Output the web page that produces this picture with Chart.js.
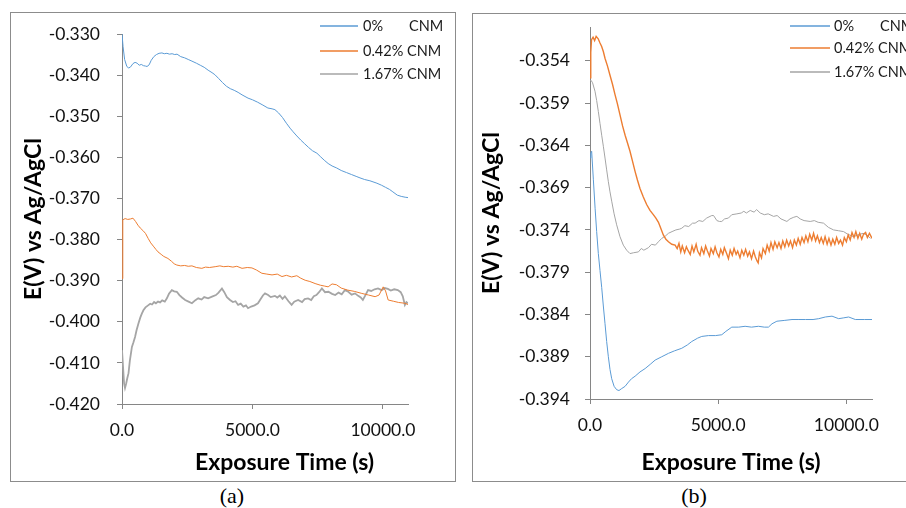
<!DOCTYPE html>
<html>
<head>
<meta charset="utf-8">
<title>Open circuit potential vs exposure time</title>
<script src="https://cdn.jsdelivr.net/npm/chart.js@4.4.1/dist/chart.umd.min.js"></script>
<style>
  html, body { margin: 0; padding: 0; background: #fff; width: 906px; height: 508px; overflow: hidden; }
  .panel { position: absolute; border: 1px solid #8c8c8c; box-sizing: border-box; }
  .panel canvas { position: absolute; left: 0; top: 0; }
  .caption { position: absolute; top: 483px; width: 60px; text-align: center; line-height: 26px;
             font-family: "Liberation Serif", "DejaVu Serif", serif; font-size: 22px; color: #000; }
</style>
</head>
<body>
<div class="panel" id="boxA" style="left:10px; top:12px; width:446px; height:470px;">
  <canvas id="chartA" width="444" height="468"></canvas>
</div>
<div class="panel" id="boxB" style="left:472px; top:13px; width:446px; height:469px;">
  <canvas id="chartB" width="444" height="467"></canvas>
</div>
<div class="caption" style="left:202px;">(a)</div>
<div class="caption" style="left:664px;">(b)</div>

<script>
// series labels (legend text)
const labelsA = ['0%       CNM', '0.42% CNM', '1.67% CNM'];
const labelsB = ['0%       CNM', '0.42% CNM', '1.67% CNM'];

// axis ticks
const xTicks = [0, 5000, 10000];
const yTicksA = [-0.420, -0.410, -0.400, -0.390, -0.380, -0.370, -0.360, -0.350, -0.340, -0.330];
const yTicksB = [-0.394, -0.389, -0.384, -0.379, -0.374, -0.369, -0.364, -0.359, -0.354];

// panel (a): [time (s), E (V)]
const a0 = [
  [0, -0.3300], [40, -0.3330], [100, -0.3362], [180, -0.3378], [250, -0.3383], [330, -0.3380],
  [420, -0.3372], [500, -0.3369], [580, -0.3371], [660, -0.3376], [740, -0.3374], [820, -0.3377],
  [900, -0.3378], [960, -0.3379], [1040, -0.3375], [1120, -0.3364], [1220, -0.3355], [1320, -0.3350],
  [1420, -0.3347], [1530, -0.3346], [1620, -0.3348], [1720, -0.3347], [1820, -0.3349], [1920, -0.3348],
  [2020, -0.3350], [2110, -0.3349], [2250, -0.3355], [2400, -0.3358], [2540, -0.3362], [2680, -0.3366],
  [2850, -0.3371], [3000, -0.3376], [3150, -0.3381], [3300, -0.3388], [3450, -0.3394], [3560, -0.3399],
  [3700, -0.3408], [3850, -0.3418], [4000, -0.3427], [4150, -0.3433], [4300, -0.3437], [4450, -0.3442],
  [4600, -0.3448], [4830, -0.3456], [5000, -0.3460], [5200, -0.3466], [5400, -0.3473], [5590, -0.3480],
  [5750, -0.3482], [5860, -0.3484], [6000, -0.3492], [6150, -0.3503], [6300, -0.3517], [6440, -0.3529],
  [6560, -0.3538], [6700, -0.3548], [6850, -0.3558], [7000, -0.3567], [7150, -0.3576], [7300, -0.3584],
  [7470, -0.3590], [7600, -0.3598], [7750, -0.3607], [7900, -0.3615], [8050, -0.3621], [8230, -0.3626],
  [8400, -0.3632], [8600, -0.3637], [8800, -0.3642], [9000, -0.3647], [9120, -0.3650], [9300, -0.3654],
  [9500, -0.3657], [9770, -0.3663], [9950, -0.3668], [10100, -0.3673], [10250, -0.3678], [10380, -0.3684],
  [10550, -0.3692], [10700, -0.3695], [10850, -0.3697], [10960, -0.3698]
];
const a042 = [
  [0, -0.3895], [30, -0.3752], [120, -0.3749], [220, -0.3751], [320, -0.3750], [420, -0.3748],
  [520, -0.3756], [610, -0.3765], [700, -0.3772], [800, -0.3778], [900, -0.3785], [1000, -0.3797],
  [1100, -0.3808], [1200, -0.3816], [1300, -0.3824], [1380, -0.3830], [1500, -0.3836], [1600, -0.3841],
  [1760, -0.3846], [1900, -0.3853], [2000, -0.3859], [2100, -0.3862], [2250, -0.3864], [2400, -0.3863],
  [2540, -0.3865], [2680, -0.3864], [2850, -0.3868], [3060, -0.3870], [3200, -0.3867], [3350, -0.3868],
  [3570, -0.3866], [3750, -0.3864], [3900, -0.3866], [4070, -0.3865], [4250, -0.3867], [4400, -0.3865],
  [4600, -0.3870], [4800, -0.3868], [4980, -0.3869], [5150, -0.3874], [5360, -0.3882], [5550, -0.3884],
  [5750, -0.3886], [5950, -0.3884], [6130, -0.3890], [6300, -0.3887], [6500, -0.3891], [6700, -0.3888],
  [6850, -0.3894], [7020, -0.3899], [7200, -0.3902], [7400, -0.3907], [7600, -0.3911], [7750, -0.3913],
  [7900, -0.3915], [8050, -0.3908], [8220, -0.3910], [8400, -0.3918], [8650, -0.3923], [8900, -0.3926],
  [9190, -0.3931], [9450, -0.3935], [9700, -0.3939], [9850, -0.3935], [10010, -0.3915], [10100, -0.3925],
  [10200, -0.3947], [10400, -0.3950], [10600, -0.3953], [10840, -0.3955], [10960, -0.3958]
];
const a167 = [
  [0, -0.4069], [40, -0.4110], [80, -0.4150], [115, -0.4161], [160, -0.4150], [200, -0.4138],
  [250, -0.4125], [300, -0.4095], [380, -0.4061], [440, -0.4050], [500, -0.4037], [560, -0.4020],
  [630, -0.4004], [700, -0.3990], [760, -0.3980], [820, -0.3972], [900, -0.3965], [1000, -0.3960],
  [1080, -0.3956], [1150, -0.3958], [1230, -0.3952], [1300, -0.3955], [1380, -0.3951], [1460, -0.3953],
  [1540, -0.3948], [1640, -0.3951], [1720, -0.3943], [1800, -0.3932], [1910, -0.3923], [2000, -0.3926],
  [2100, -0.3927], [2200, -0.3935], [2300, -0.3941], [2420, -0.3947], [2550, -0.3951], [2680, -0.3955],
  [2800, -0.3948], [2920, -0.3943], [3050, -0.3946], [3150, -0.3940], [3300, -0.3943], [3450, -0.3939],
  [3600, -0.3935], [3700, -0.3929], [3830, -0.3919], [3920, -0.3928], [4020, -0.3940], [4140, -0.3947],
  [4250, -0.3952], [4350, -0.3950], [4450, -0.3959], [4550, -0.3956], [4650, -0.3963], [4750, -0.3960],
  [4830, -0.3967], [4950, -0.3963], [5080, -0.3960], [5210, -0.3955], [5320, -0.3944], [5400, -0.3936],
  [5480, -0.3931], [5600, -0.3935], [5700, -0.3940], [5860, -0.3937], [5950, -0.3941], [6050, -0.3936],
  [6150, -0.3944], [6240, -0.3938], [6380, -0.3950], [6500, -0.3959], [6600, -0.3951], [6750, -0.3947],
  [6900, -0.3952], [7000, -0.3945], [7130, -0.3943], [7250, -0.3947], [7350, -0.3938], [7450, -0.3935],
  [7550, -0.3928], [7660, -0.3919], [7780, -0.3928], [7910, -0.3927], [8050, -0.3932], [8170, -0.3935],
  [8300, -0.3929], [8420, -0.3933], [8540, -0.3923], [8650, -0.3926], [8800, -0.3934], [8930, -0.3931],
  [9050, -0.3937], [9150, -0.3941], [9230, -0.3947], [9330, -0.3935], [9430, -0.3923], [9550, -0.3925],
  [9680, -0.3921], [9810, -0.3919], [9950, -0.3923], [10070, -0.3918], [10190, -0.3920], [10300, -0.3924],
  [10430, -0.3921], [10570, -0.3923], [10680, -0.3928], [10760, -0.3938], [10840, -0.3959], [10900, -0.3952],
  [10960, -0.3955]
];

// panel (b): [time (s), E (V)]
const b0 = [
  [0, -0.3655], [30, -0.3649], [65, -0.3647], [130, -0.3680], [200, -0.3715], [260, -0.3742],
  [325, -0.3768], [390, -0.3788], [456, -0.3808], [520, -0.3830], [586, -0.3851], [650, -0.3872],
  [716, -0.3890], [780, -0.3905], [846, -0.3916], [940, -0.3925], [1040, -0.3929], [1130, -0.3930],
  [1220, -0.3928], [1370, -0.3925], [1500, -0.3920], [1620, -0.3916], [1760, -0.3913], [1950, -0.3908],
  [2150, -0.3904], [2350, -0.3899], [2540, -0.3894], [2800, -0.3890], [3060, -0.3886], [3300, -0.3883],
  [3580, -0.3880], [3800, -0.3876], [3970, -0.3872], [4200, -0.3868], [4360, -0.3866], [4620, -0.3865],
  [4900, -0.3865], [5140, -0.3864], [5300, -0.3860], [5530, -0.3855], [5800, -0.3855], [6050, -0.3854],
  [6300, -0.3855], [6570, -0.3854], [6800, -0.3855], [6960, -0.3855], [7100, -0.3851], [7290, -0.3848],
  [7600, -0.3847], [7880, -0.3846], [8150, -0.3846], [8400, -0.3846], [8700, -0.3846], [8920, -0.3845],
  [9180, -0.3843], [9440, -0.3842], [9700, -0.3845], [9900, -0.3844], [10090, -0.3843], [10350, -0.3846],
  [10700, -0.3846], [11000, -0.3846]
];
const b042 = [
  [0, -0.3560], [30, -0.3530], [60, -0.3515], [120, -0.3512], [180, -0.3516], [240, -0.3511],
  [320, -0.3514], [390, -0.3519], [455, -0.3523], [520, -0.3529], [585, -0.3537], [680, -0.3546],
  [780, -0.3557], [880, -0.3568], [976, -0.3580], [1070, -0.3591], [1170, -0.3604], [1270, -0.3617],
  [1370, -0.3628], [1460, -0.3637], [1560, -0.3647], [1660, -0.3659], [1760, -0.3671], [1850, -0.3681],
  [1950, -0.3691], [2080, -0.3701], [2210, -0.3710], [2340, -0.3717], [2470, -0.3722], [2570, -0.3726],
  [2670, -0.3731], [2760, -0.3738], [2860, -0.3746], [2960, -0.3751], [3060, -0.3754], [3190, -0.3757],
  [3320, -0.3758], [3400, -0.3762], [3470, -0.3756], [3540, -0.3766], [3600, -0.3759], [3690, -0.3767],
  [3760, -0.3760], [3820, -0.3764], [3910, -0.3769], [3980, -0.3759], [4050, -0.3766], [4140, -0.3757],
  [4200, -0.3765], [4290, -0.3770], [4350, -0.3761], [4440, -0.3768], [4510, -0.3759], [4580, -0.3765],
  [4660, -0.3771], [4720, -0.3762], [4810, -0.3768], [4880, -0.3760], [4950, -0.3767], [5030, -0.3772],
  [5100, -0.3763], [5180, -0.3769], [5240, -0.3761], [5330, -0.3768], [5400, -0.3774], [5470, -0.3764],
  [5550, -0.3770], [5620, -0.3762], [5700, -0.3769], [5760, -0.3765], [5850, -0.3773], [5920, -0.3764],
  [6000, -0.3770], [6070, -0.3763], [6150, -0.3771], [6220, -0.3766], [6300, -0.3774], [6380, -0.3765],
  [6450, -0.3772], [6520, -0.3777], [6560, -0.3779], [6610, -0.3767], [6690, -0.3773], [6750, -0.3762],
  [6840, -0.3768], [6910, -0.3758], [6990, -0.3765], [7060, -0.3755], [7140, -0.3763], [7210, -0.3754],
  [7300, -0.3761], [7370, -0.3755], [7450, -0.3762], [7520, -0.3753], [7600, -0.3760], [7670, -0.3752],
  [7750, -0.3759], [7820, -0.3753], [7900, -0.3761], [7970, -0.3752], [8050, -0.3758], [8120, -0.3750],
  [8200, -0.3757], [8270, -0.3749], [8350, -0.3755], [8420, -0.3747], [8500, -0.3754], [8570, -0.3745],
  [8650, -0.3752], [8720, -0.3744], [8800, -0.3753], [8870, -0.3747], [8950, -0.3755], [9020, -0.3749],
  [9100, -0.3756], [9170, -0.3748], [9250, -0.3757], [9320, -0.3750], [9400, -0.3758], [9470, -0.3751],
  [9550, -0.3757], [9620, -0.3749], [9700, -0.3756], [9770, -0.3752], [9850, -0.3758], [9920, -0.3749],
  [10000, -0.3754], [10070, -0.3746], [10150, -0.3752], [10220, -0.3743], [10300, -0.3749], [10370, -0.3742],
  [10450, -0.3750], [10520, -0.3744], [10600, -0.3751], [10670, -0.3745], [10750, -0.3743], [10820, -0.3749],
  [10900, -0.3744], [11000, -0.3750]
];
const b167 = [
  [0, -0.3564], [40, -0.3563], [100, -0.3566], [195, -0.3576], [260, -0.3587], [325, -0.3600],
  [390, -0.3614], [456, -0.3628], [520, -0.3641], [586, -0.3655], [650, -0.3669], [716, -0.3683],
  [780, -0.3695], [846, -0.3706], [940, -0.3721], [1040, -0.3734], [1170, -0.3748], [1300, -0.3758],
  [1430, -0.3764], [1560, -0.3768], [1700, -0.3767], [1890, -0.3766], [2000, -0.3762], [2100, -0.3764],
  [2280, -0.3761], [2400, -0.3757], [2550, -0.3758], [2670, -0.3754], [2800, -0.3750], [2950, -0.3747],
  [3060, -0.3744], [3200, -0.3742], [3350, -0.3740], [3500, -0.3739], [3580, -0.3738], [3700, -0.3735],
  [3850, -0.3736], [4000, -0.3732], [4100, -0.3732], [4250, -0.3729], [4400, -0.3730], [4550, -0.3726],
  [4750, -0.3723], [4820, -0.3723], [4950, -0.3729], [5050, -0.3730], [5140, -0.3730], [5250, -0.3727],
  [5400, -0.3726], [5530, -0.3722], [5730, -0.3721], [5900, -0.3720], [6000, -0.3718], [6100, -0.3720],
  [6250, -0.3717], [6400, -0.3719], [6500, -0.3716], [6640, -0.3720], [6800, -0.3722], [6950, -0.3721],
  [7160, -0.3724], [7300, -0.3723], [7450, -0.3727], [7680, -0.3730], [7800, -0.3727], [7950, -0.3725],
  [8070, -0.3724], [8200, -0.3727], [8350, -0.3729], [8590, -0.3730], [8750, -0.3729], [8900, -0.3731],
  [9110, -0.3732], [9300, -0.3737], [9500, -0.3740], [9700, -0.3741], [9890, -0.3742], [10050, -0.3745],
  [10280, -0.3748], [10450, -0.3746], [10650, -0.3744], [10800, -0.3746], [10940, -0.3750]
];

const BLUE = '#5B9BD5';
const ORANGE = '#ED7D31';
const GREY = '#A5A5A5';
const AXIS = '#868686';
const FONT = 'Lato, "Open Sans", sans-serif';

// legend drawn inside the canvas: short line sample + label per dataset
const sideLegend = {
  id: 'sideLegend',
  afterDraw(chart, args, opts) {
    const ctx = chart.ctx;
    ctx.save();
    ctx.font = opts.fontSize + 'px ' + FONT;
    ctx.textBaseline = 'middle';
    ctx.textAlign = 'left';
    chart.data.datasets.forEach((ds, i) => {
      const y = opts.rows[i];
      ctx.strokeStyle = ds.borderColor;
      ctx.lineWidth = 1.4;
      ctx.beginPath();
      ctx.moveTo(opts.lineFrom, y);
      ctx.lineTo(opts.lineTo, y);
      ctx.stroke();
      ctx.fillStyle = '#1a1a1a';
      ctx.fillText(ds.label, opts.textX, y);
    });
    ctx.restore();
  }
};

function makeChart(id, cfg) {
  const toXY = arr => arr.map(p => ({ x: p[0], y: p[1] }));
  const datasets = cfg.series.map((s, i) => ({
    label: cfg.labels[i],
    data: toXY(s.data),
    borderColor: s.color,
    borderWidth: s.width,
    pointRadius: 0,
    tension: 0,
    fill: false
  }));

  return new Chart(document.getElementById(id), {
    type: 'line',
    data: { datasets: datasets },
    plugins: [sideLegend],
    options: {
      responsive: false,
      animation: false,
      devicePixelRatio: 1,
      layout: { padding: { top: cfg.top, right: cfg.right, left: 0, bottom: 0 } },
      plugins: {
        legend: { display: false },
        tooltip: { enabled: false },
        sideLegend: cfg.legend
      },
      scales: {
        x: {
          type: 'linear',
          min: 0,
          max: cfg.xMax,
          afterBuildTicks: s => { s.ticks = xTicks.map(v => ({ value: v })); },
          afterFit: s => { s.height = cfg.xHeight; s.paddingLeft = 0; s.paddingRight = 0; },
          ticks: {
            callback: v => v.toFixed(1),
            padding: 11,
            maxRotation: 0,
            autoSkip: false,
            color: '#111',
            font: { family: FONT, size: 17.5 }
          },
          grid: { drawOnChartArea: false, tickLength: 5, tickColor: AXIS },
          border: { color: AXIS, width: 1 },
          title: {
            display: true,
            text: cfg.xTitle,
            color: '#000',
            padding: { top: 0, bottom: 4.2 },
            font: { family: FONT, size: 23, weight: 'bold' }
          }
        },
        y: {
          type: 'linear',
          min: cfg.yMin,
          max: cfg.yMax,
          afterBuildTicks: s => { s.ticks = cfg.yTicks.map(v => ({ value: v })); },
          afterFit: s => { s.width = cfg.yWidth; s.paddingTop = 0; s.paddingBottom = 0; },
          ticks: {
            callback: v => v.toFixed(3),
            padding: cfg.yPad,
            autoSkip: false,
            color: '#111',
            font: { family: FONT, size: 17.5 }
          },
          grid: { drawOnChartArea: false, tickLength: 5, tickColor: AXIS },
          border: { color: AXIS, width: 1 },
          title: {
            display: true,
            text: 'E(V) vs Ag/AgCl',
            color: '#000',
            padding: { top: cfg.yTitlePad, bottom: 0 },
            font: { family: FONT, size: 23, weight: 'bold' }
          }
        }
      }
    }
  });
}

makeChart('chartA', {
  labels: labelsA,
  series: [
    { data: a0, color: BLUE, width: 1 },
    { data: a042, color: ORANGE, width: 1 },
    { data: a167, color: GREY, width: 1.8 }
  ],
  xMax: 10960, yMin: -0.420, yMax: -0.330, yTicks: yTicksA,
  top: 21, right: 47, yWidth: 111, xHeight: 77, yPad: 17, yTitlePad: 8.5,
  xTitle: '       Exposure Time (s)',
  legend: { rows: [13, 38, 61], lineFrom: 309, lineTo: 347, textX: 352, fontSize: 14.5 }
});

makeChart('chartB', {
  labels: labelsB,
  series: [
    { data: b0, color: BLUE, width: 1 },
    { data: b042, color: ORANGE, width: 1.4 },
    { data: b167, color: GREY, width: 1 }
  ],
  xMax: 11000, yMin: -0.394, yMax: -0.350, yTicks: yTicksB,
  top: 13, right: 45, yWidth: 117, xHeight: 82, yPad: 15, yTitlePad: 5.2,
  xTitle: 'Exposure Time (s)',
  legend: { rows: [12, 34, 58], lineFrom: 317, lineTo: 357, textX: 361, fontSize: 14.5 }
});
</script>
</body>
</html>
